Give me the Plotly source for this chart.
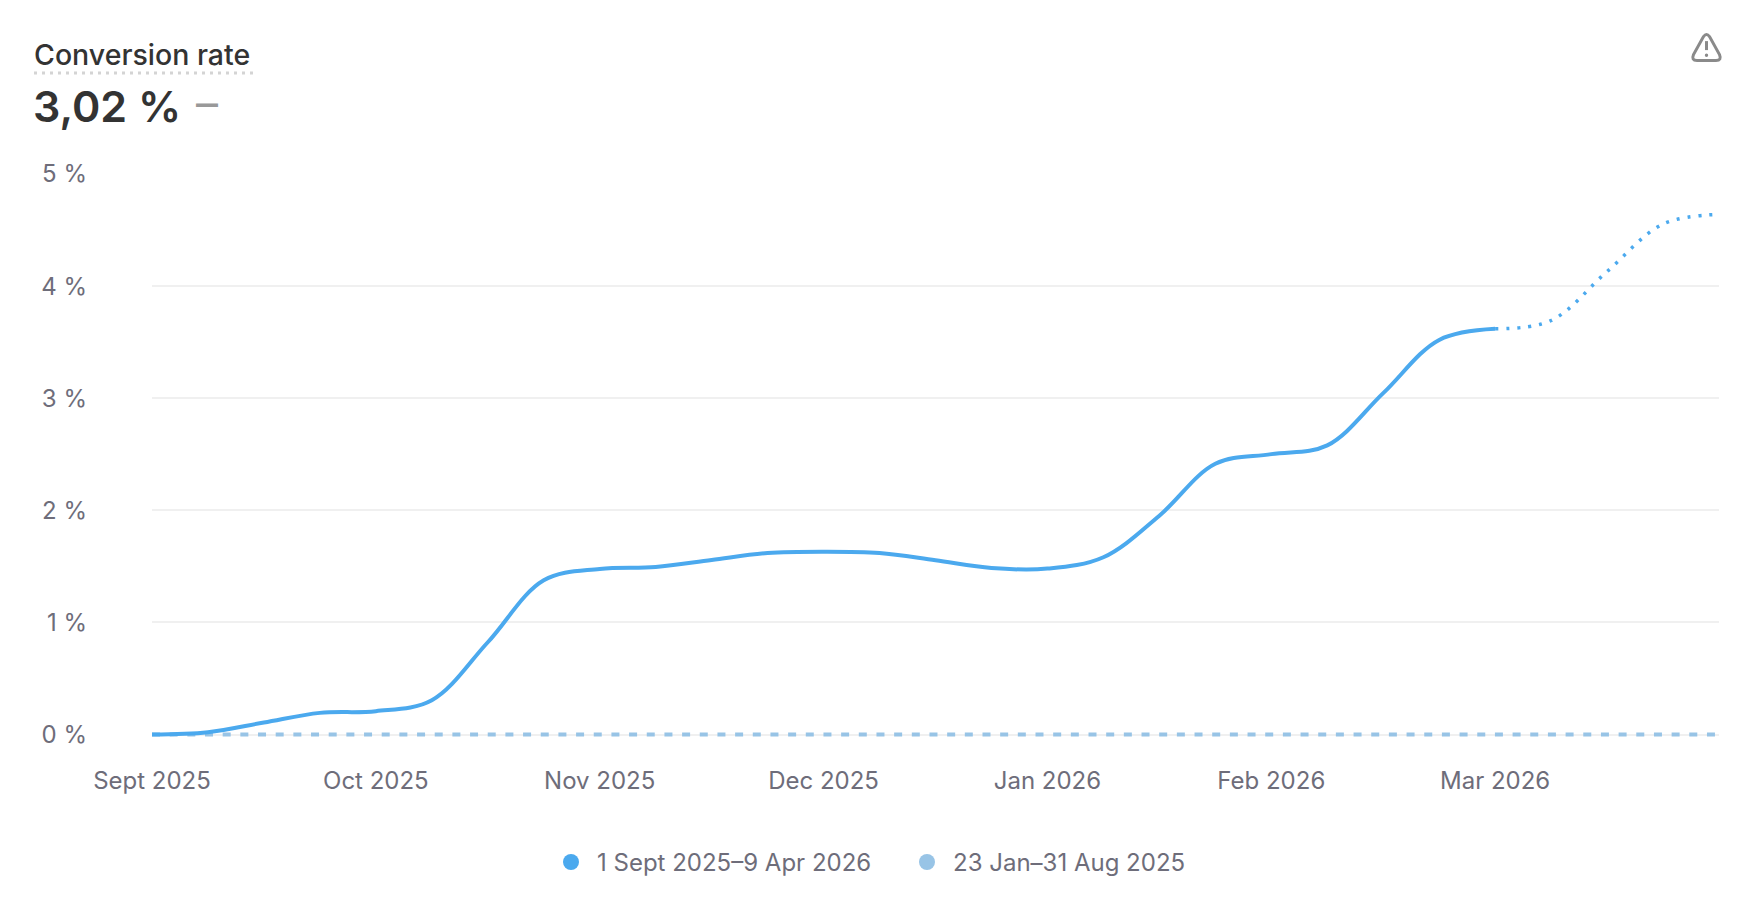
import plotly.graph_objects as go

WIDTH = 1760
HEIGHT = 908
PLOT_LEFT = 152
PLOT_RIGHT = 1719
PLOT_TOP = 174
PLOT_BOTTOM = 739.5

month_labels = ["Sept 2025", "Oct 2025", "Nov 2025", "Dec 2025", "Jan 2026", "Feb 2026", "Mar 2026"]
month_ticks = [0, 1, 2, 3, 4, 5, 6]
rate_ticks = [0, 1, 2, 3, 4, 5]
rate_labels = ["0 %", "1 %", "2 %", "3 %", "4 %", "5 %"]

# every quarter of a month
current_pos = [i / 4 for i in range(25)]
current_rate = [
    0, 0.021, 0.107, 0.193,
    0.208, 0.306, 0.823, 1.376,
    1.477, 1.494, 1.557, 1.619,
    1.631, 1.619, 1.554, 1.485,
    1.48, 1.581, 1.952, 2.415,
    2.501, 2.579, 3.045, 3.52,
    3.619,
]
partial_pos = [6, 6.25, 6.5, 6.75, 7]
partial_rate = [3.619, 3.693, 4.13, 4.554, 4.64]
previous_pos = [0, 1, 2, 3, 4, 5, 6, 7]
previous_rate = [0, 0, 0, 0, 0, 0, 0, 0]

current_name = "1 Sept 2025–9 Apr 2026"
previous_name = "23 Jan–31 Aug 2025"
current_color = "#4BA9EE"
previous_color = "#98C4E6"
text_color = "#6E6D7A"
dark_color = "#333333"
font_family = "Inter"


# paper coordinates count from the plot area, header and icon are placed in page pixels
def px_x(x):
    return (x - PLOT_LEFT) / (PLOT_RIGHT - PLOT_LEFT)


def px_y(y):
    return (PLOT_BOTTOM - y) / (PLOT_BOTTOM - PLOT_TOP)


def label(x, y, text, size, color=dark_color, weight=600):
    return dict(
        xref="paper", yref="paper", x=px_x(x), y=px_y(y), text=text, showarrow=False,
        xanchor="left", yanchor="middle",
        font=dict(family=font_family, size=size, color=color, weight=weight),
    )


def icon_path(points):
    return " ".join(f"{cmd} " + " ".join(f"{px_x(x):.5f} {px_y(y):.5f}" for x, y in pts) for cmd, pts in points)


fig = go.Figure()
fig.add_trace(go.Scatter(
    x=previous_pos, y=previous_rate, mode="lines", showlegend=False,
    line=dict(color=previous_color, width=4, dash="8px,9.67px"),
))
fig.add_trace(go.Scatter(
    x=partial_pos, y=partial_rate, mode="lines", showlegend=False,
    line=dict(color=current_color, width=3.5, shape="spline", smoothing=1, dash="3px,8px"),
))
fig.add_trace(go.Scatter(
    x=current_pos, y=current_rate, mode="lines", showlegend=False,
    line=dict(color=current_color, width=4, shape="spline", smoothing=1),
))
# legend shows dots, so the entries get their own marker traces
fig.add_trace(go.Scatter(
    x=[None], y=[None], mode="markers", name=current_name,
    marker=dict(color=current_color, size=20),
))
fig.add_trace(go.Scatter(
    x=[None], y=[None], mode="markers", name=previous_name,
    marker=dict(color=previous_color, size=20),
))

warning_outline = [
    ("M", [(1703.5, 36.5)]),
    ("Q", [(1706.5, 32.5), (1709.5, 36.5)]),
    ("L", [(1719.5, 54.5)]),
    ("Q", [(1722, 60.5), (1716, 60.5)]),
    ("L", [(1697, 60.5)]),
    ("Q", [(1691, 60.5), (1693.5, 54.5)]),
]

fig.update_layout(
    width=WIDTH,
    height=HEIGHT,
    margin=dict(l=PLOT_LEFT, r=WIDTH - PLOT_RIGHT, t=PLOT_TOP, b=HEIGHT - PLOT_BOTTOM),
    paper_bgcolor="white",
    plot_bgcolor="white",
    font=dict(family=font_family, size=24, color=text_color),
    xaxis=dict(
        range=[0, 7], tickvals=month_ticks, ticktext=month_labels,
        showgrid=False, zeroline=False, showline=False, ticks="", ticklabelstandoff=25,
    ),
    yaxis=dict(
        # a little room under 0 so the bottom lines are not cut in half
        range=[-0.04, 5], tickvals=rate_ticks, ticktext=rate_labels,
        showgrid=True, gridcolor="#F0F0F0", gridwidth=2, zeroline=False, showline=False,
        ticks="", ticklabelstandoff=64,
    ),
    legend=dict(
        orientation="h", x=px_x(545), xanchor="left", xref="paper", yref="paper",
        y=px_y(863), yanchor="middle", itemsizing="trace", itemclick=False, itemwidth=42,
        entrywidth=299, entrywidthmode="pixels",
        font=dict(family=font_family, size=24, color=text_color),
    ),
    annotations=[
        label(32, 54, "Conversion rate", 28.5, weight=500),
        label(31, 106, "3,02 %", 43),
        label(194, 103, "–", 44, color="#999999", weight=400),
    ],
    shapes=[
        dict(type="line", xref="paper", yref="paper", x0=px_x(34), x1=px_x(253), y0=px_y(73), y1=px_y(73),
             line=dict(color="#D4D4D4", width=3, dash="3px,5px")),
        dict(type="path", xref="paper", yref="paper", path=icon_path(warning_outline) + " Z",
             line=dict(color="#8A8A8A", width=3), fillcolor="rgba(0,0,0,0)"),
        dict(type="line", xref="paper", yref="paper", x0=px_x(1706.5), x1=px_x(1706.5), y0=px_y(41), y1=px_y(50),
             line=dict(color="#8A8A8A", width=3)),
        dict(type="circle", xref="paper", yref="paper", x0=px_x(1704.8), x1=px_x(1708.2), y0=px_y(53.5), y1=px_y(56.9),
             line=dict(width=0), fillcolor="#8A8A8A"),
    ],
)

fig.write_html("out.html", config=dict(displayModeBar=False), post_script="document.body.style.margin='0';")
